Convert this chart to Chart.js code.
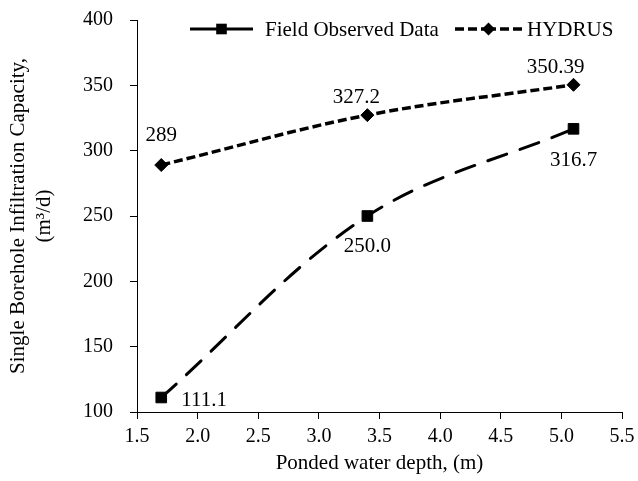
<!DOCTYPE html>
<html>
<head>
<meta charset="utf-8">
<title>Single Borehole Infiltration Capacity</title>
<script src="https://cdn.jsdelivr.net/npm/chart.js@4"></script>
<style>
  body { margin: 0; background: #fff; }
  canvas { display: block; }
</style>
</head>
<body>
<canvas id="chart" width="638" height="481"></canvas>

<script>
// data
const depths = [1.7, 3.4, 5.1];              // ponded water depth (m)
const fieldObserved = [111.1, 250.0, 316.7]; // m3/d
const hydrus = [289, 327.2, 350.39];         // m3/d

const xMin = 1.5, xMax = 5.5, xStep = 0.5;
const yMin = 100, yMax = 400, yStep = 50;

const yTitle = ['Single Borehole Infiltration Capacity,', '(m\u00B3/d)'];
const xTitle = 'Ponded water depth, (m)';

// where each value label sits relative to its marker: [dx, dy, align]
const fieldLabelPos = [[20, 3, 'left'], [0, 30, 'center'], [0, 32, 'center']];
const hydrusLabelPos = [[0, -30, 'center'], [-11, -18, 'center'], [-18, -17, 'center']];

const FONT = "'Liberation Serif', 'Times New Roman', serif";
Chart.defaults.font.family = FONT;
Chart.defaults.color = '#000';

const toPoints = (xs, ys) => xs.map((x, i) => ({ x: x, y: ys[i] }));

// value labels next to the markers
const valueLabels = {
  id: 'valueLabels',
  afterDatasetsDraw(chart) {
    const ctx = chart.ctx;
    ctx.save();
    ctx.font = '21px ' + FONT;
    ctx.fillStyle = '#000';
    ctx.textBaseline = 'middle';
    chart.data.datasets.forEach((ds, di) => {
      const meta = chart.getDatasetMeta(di);
      meta.data.forEach((pt, i) => {
        const [dx, dy, align] = ds.labelPos[i];
        ctx.textAlign = align;
        ctx.fillText(ds.labelText(ds.data[i].y), pt.x + dx, pt.y + dy);
      });
    });
    ctx.restore();
  }
};

// excel style legend: line + marker + text, sitting inside the plot
const lineLegend = {
  id: 'lineLegend',
  afterDraw(chart) {
    const ctx = chart.ctx;
    const items = [
      { di: 0, x1: 190, x2: 253, tx: 265, dash: [] },
      { di: 1, x1: 455, x2: 522, tx: 527, dash: [9, 4] }
    ];
    const y = 29;
    ctx.save();
    items.forEach(it => {
      const ds = chart.data.datasets[it.di];
      const mid = (it.x1 + it.x2) / 2;
      ctx.strokeStyle = ds.borderColor;
      ctx.lineWidth = ds.borderWidth;
      ctx.setLineDash(it.dash);
      ctx.beginPath();
      ctx.moveTo(it.x1, y);
      ctx.lineTo(mid, y);
      ctx.stroke();
      ctx.beginPath();
      ctx.moveTo(it.x2, y);
      ctx.lineTo(mid, y);
      ctx.stroke();
      ctx.setLineDash([]);

      ctx.fillStyle = ds.pointBackgroundColor;
      const r = ds.pointRadius;
      ctx.beginPath();
      if (ds.pointStyle === 'rect') {
        const s = r * Math.SQRT1_2;
        ctx.rect(mid - s, y - s, 2 * s, 2 * s);
      } else {
        ctx.moveTo(mid - r, y);
        ctx.lineTo(mid, y - r);
        ctx.lineTo(mid + r, y);
        ctx.lineTo(mid, y + r);
        ctx.closePath();
      }
      ctx.fill();

      ctx.font = '21px ' + FONT;
      ctx.fillStyle = '#000';
      ctx.textAlign = 'left';
      ctx.textBaseline = 'middle';
      ctx.fillText(ds.label, it.tx, y + 1);
    });
    ctx.restore();
  }
};

new Chart(document.getElementById('chart'), {
  type: 'line',
  data: {
    datasets: [{
      label: 'Field Observed Data',
      data: toPoints(depths, fieldObserved),
      borderColor: '#000',
      borderWidth: 3,
      borderDash: [20, 14],
      borderCapStyle: 'round',
      tension: 0.35,
      pointStyle: 'rect',
      pointRadius: 7.5,
      pointBackgroundColor: '#000',
      pointBorderColor: '#000',
      pointBorderWidth: 1,
      labelPos: fieldLabelPos,
      labelText: v => v.toFixed(1)
    }, {
      label: 'HYDRUS',
      data: toPoints(depths, hydrus),
      borderColor: '#000',
      borderWidth: 3.5,
      borderDash: [9, 4],
      tension: 0.35,
      pointStyle: 'rectRot',
      pointRadius: 6.5,
      pointBackgroundColor: '#000',
      pointBorderColor: '#000',
      pointBorderWidth: 1,
      labelPos: hydrusLabelPos,
      labelText: v => String(v)
    }]
  },
  options: {
    responsive: false,
    animation: false,
    layout: { padding: { top: 20, right: 16, bottom: 0, left: 0 } },
    plugins: {
      legend: { display: false },
      tooltip: { enabled: false }
    },
    scales: {
      x: {
        type: 'linear',
        min: xMin,
        max: xMax,
        ticks: {
          stepSize: xStep,
          autoSkip: false,
          maxRotation: 0,
          padding: 6,
          font: { size: 20 },
          callback: v => v.toFixed(1)
        },
        grid: { drawOnChartArea: false, tickLength: 7, color: '#000' },
        border: { color: '#000', width: 1 },
        title: {
          display: true,
          text: xTitle,
          font: { size: 21, lineHeight: 1.25 },
          padding: { top: 0, bottom: 4 }
        },
        afterFit(scale) {
          scale.height = 69;
          scale.paddingLeft = 0;
          scale.paddingRight = 0;
        }
      },
      y: {
        min: yMin,
        max: yMax,
        ticks: { stepSize: yStep, padding: 17, font: { size: 20 } },
        grid: { drawOnChartArea: false, tickLength: 7, color: '#000' },
        border: { color: '#000', width: 1 },
        title: {
          display: true,
          text: yTitle,
          font: { size: 21, lineHeight: 1.25 },
          padding: { top: 5, bottom: 0 }
        },
        afterFit(scale) {
          scale.width = 137;
          scale.paddingTop = 0;
          scale.paddingBottom = 0;
        }
      }
    }
  },
  plugins: [valueLabels, lineLegend]
});
</script>
</body>
</html>
